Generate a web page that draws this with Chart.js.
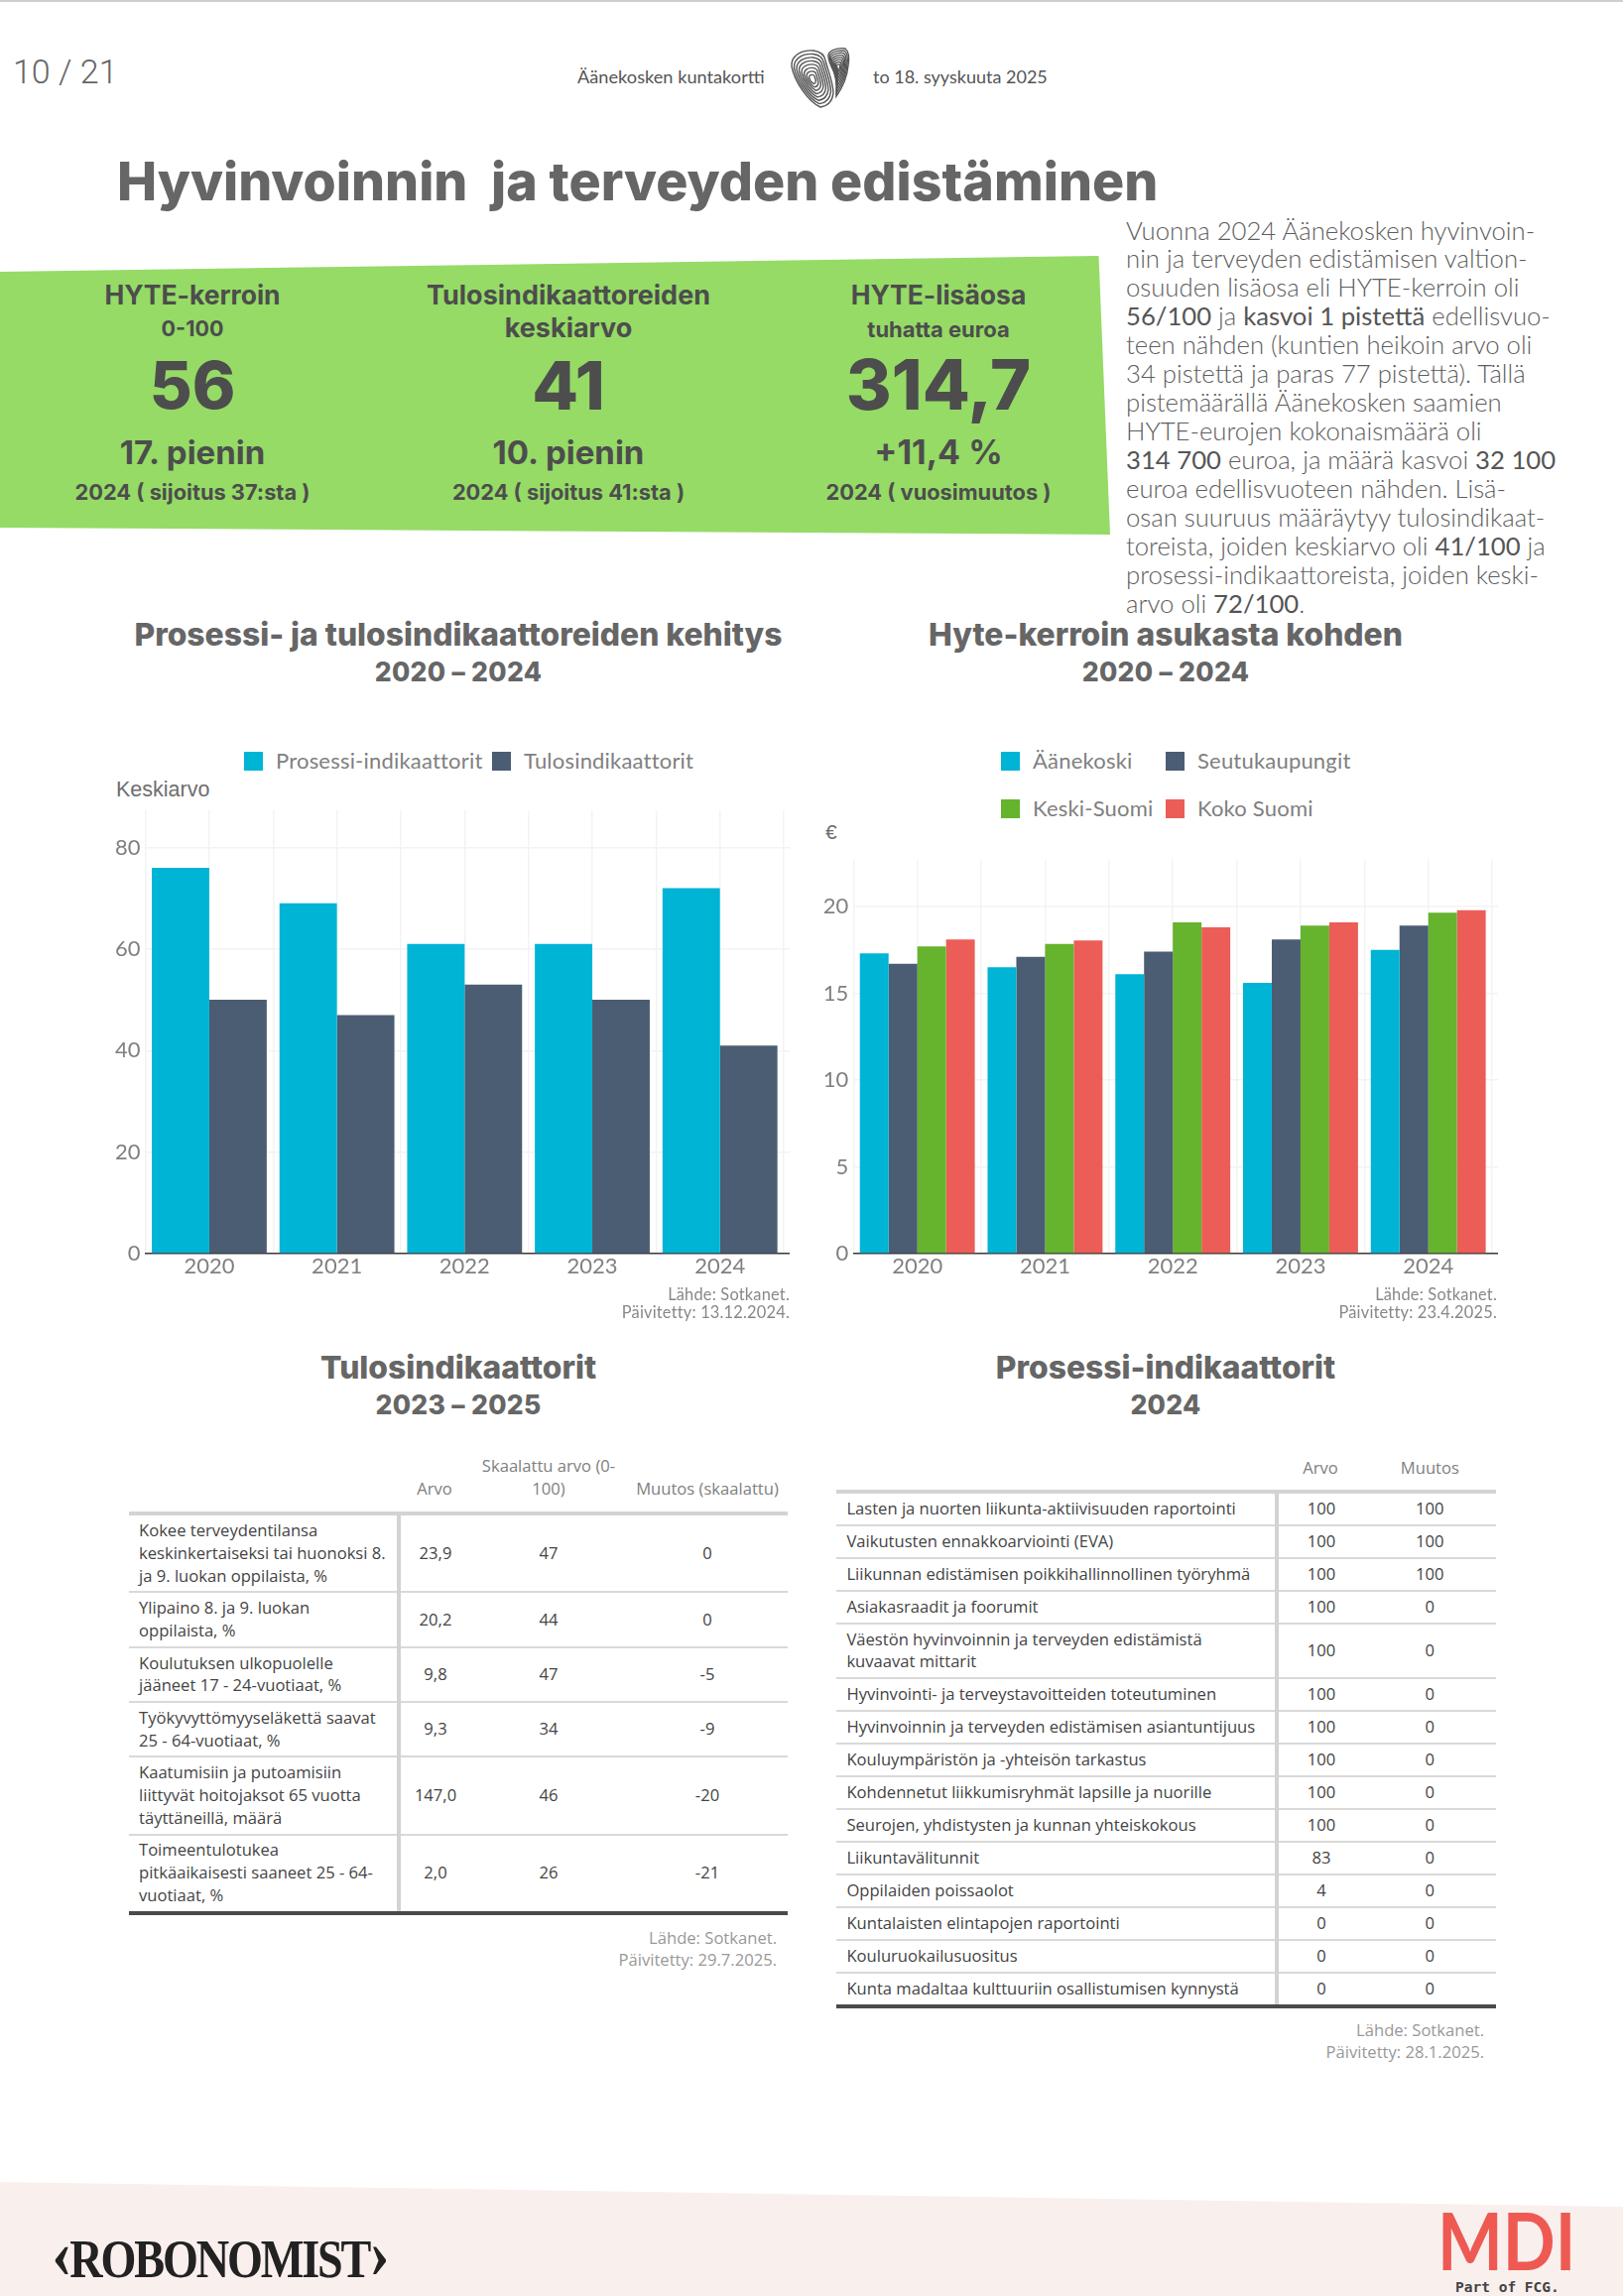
<!DOCTYPE html>
<html lang="fi">
<head>
<meta charset="utf-8">
<title>Hyvinvoinnin ja terveyden edistäminen</title>
<script src="https://cdn.jsdelivr.net/npm/chart.js@4"></script>
<style>
  html, body { margin: 0; padding: 0; background: #fff; }
  #page { position: relative; width: 1636px; height: 2315px; overflow: hidden; font-family: Lato, sans-serif; color: #666; }
  .t { position: absolute; white-space: nowrap; line-height: 1; transform: translateY(-50%); }
  .c { position: absolute; white-space: nowrap; line-height: 1; transform: translate(-50%, -50%); text-align: center; }
  .r { position: absolute; white-space: nowrap; line-height: 1; transform: translateY(-50%); text-align: right; }
  .shape { position: absolute; left: 0; top: 0; }
  .card { color: #4d4d4d; font-family: Inter, sans-serif; font-weight: 700; }
  .sectionTitle { font-family: Inter, sans-serif; font-size: 31.8px; font-weight: 800; color: #666; }
  .sectionSub { font-family: Inter, sans-serif; font-size: 26.5px; font-weight: 800; color: #666; letter-spacing: .3px; }
  .source { font-size: 16.4px; color: #888; font-weight: 400; letter-spacing: .2px; }
  .srcTable { font-family: "Open Sans", sans-serif; font-size: 16.6px; color: #999; }
  #intro { position: absolute; left: 1135px; top: 217.5px; font-size: 25.7px; line-height: 28.95px; font-weight: 300; color: #5e5e5e; white-space: nowrap; }
  #intro b { font-weight: 400; color: #555; }
  canvas { position: absolute; }
  .lg { position: absolute; display: flex; align-items: center; font-size: 22px; color: #808080; font-weight: 400; line-height: 1; letter-spacing: .2px; transform: translateY(-50%); white-space: nowrap; }
  .lg i { display: inline-block; width: 19px; height: 19px; margin-right: 13px; }
  table { position: absolute; border-collapse: collapse; table-layout: fixed; font-family: "Open Sans", sans-serif; font-size: 16.6px; color: #444; }
  td, th { padding: 0; text-align: center; font-weight: 400; }
  th { color: #808080; vertical-align: bottom; border-bottom: 4px solid #d3d3d3; }
  td { border-bottom: 2px solid #d9d9d9; vertical-align: middle; }
  td:first-child { text-align: left; padding-left: 10px; border-right: 4px solid #d3d3d3; }
  tr:last-child td { border-bottom: 4px solid #4a4a4a; }
  #tableT { line-height: 22.8px; }
  #tableT th { padding-bottom: 11.5px; }
  #tableT td { padding-top: 3.9px; padding-bottom: 3.9px; }
  #tableP { line-height: 22.5px; }
  #tableP th { padding-bottom: 10px; }
  #tableP td { padding-top: 4.25px; padding-bottom: 4.25px; }
</style>
</head>
<body>
<div id="page">
  <svg class="shape" width="1636" height="2315">
    <rect x="0" y="0" width="1636" height="2" fill="#cfcfcf"/>
    <polygon points="0,274 1107.5,258 1119,539 0,532" fill="#95db66"/>
    <polygon points="0,2200 1636,2225 1636,2315 0,2315" fill="#f9f0ee"/>
    <g id="thumb" transform="translate(798,48)" fill="none" stroke="#555" stroke-width="1.4"></g>
  </svg>

  <div class="t" style="left:13px;top:72px;font-family:Roboto,sans-serif;font-weight:300;font-size:34px;color:#666">10 / 21</div>
  <div class="t" style="left:582px;top:77px;font-size:18.2px;color:#555">Äänekosken kuntakortti</div>
  <div class="t" style="left:880px;top:77px;font-size:18px;color:#555">to 18. syyskuuta 2025</div>

  <div class="t" style="left:118px;top:183px;font-family:Inter,sans-serif;font-size:53.7px;font-weight:800;color:#666;white-space:pre">Hyvinvoinnin  ja terveyden edistäminen</div>

  <div class="c card" style="left:194px;top:297px;font-size:26.5px">HYTE-kerroin</div>
  <div class="c card" style="left:194px;top:332px;font-size:21.5px">0-100</div>
  <div class="c card" style="left:194px;top:388px;font-size:66px;font-weight:800">56</div>
  <div class="c card" style="left:194px;top:456px;font-size:33px">17. pienin</div>
  <div class="c card" style="left:194px;top:497px;font-size:21.8px">2024 ( sijoitus 37:sta )</div>

  <div class="c card" style="left:573px;top:297px;font-size:27px">Tulosindikaattoreiden</div>
  <div class="c card" style="left:573px;top:330px;font-size:27px">keskiarvo</div>
  <div class="c card" style="left:573px;top:388px;font-size:68px;font-weight:800">41</div>
  <div class="c card" style="left:573px;top:456px;font-size:33px">10. pienin</div>
  <div class="c card" style="left:573px;top:497px;font-size:21.8px">2024 ( sijoitus 41:sta )</div>

  <div class="c card" style="left:946px;top:297px;font-size:26.5px">HYTE-lisäosa</div>
  <div class="c card" style="left:946px;top:332px;font-size:22px">tuhatta euroa</div>
  <div class="c card" style="left:946px;top:388px;font-size:70px;font-weight:800">314,7</div>
  <div class="c card" style="left:946px;top:456px;font-size:34px">+11,4 %</div>
  <div class="c card" style="left:946px;top:497px;font-size:21.8px">2024 ( vuosimuutos )</div>

  <div id="intro">Vuonna 2024 Äänekosken hyvinvoin-<br>nin ja terveyden edistämisen valtion-<br>osuuden lisäosa eli HYTE-kerroin oli<br><b>56/100</b> ja <b>kasvoi 1 pistettä</b> edellisvuo-<br>teen nähden (kuntien heikoin arvo oli<br>34 pistettä ja paras 77 pistettä). Tällä<br>pistemäärällä Äänekosken saamien<br>HYTE-eurojen kokonaismäärä oli<br><b>314 700</b> euroa, ja määrä kasvoi <b>32 100</b><br>euroa edellisvuoteen nähden. Lisä-<br>osan suuruus määräytyy tulosindikaat-<br>toreista, joiden keskiarvo oli <b>41/100</b> ja<br>prosessi-indikaattoreista, joiden keski-<br>arvo oli <b>72/100</b>.</div>

  <div class="c sectionTitle" style="left:462px;top:640px">Prosessi- ja tulosindikaattoreiden kehitys</div>
  <div class="c sectionSub" style="left:462px;top:677px">2020 – 2024</div>
  <div class="c sectionTitle" style="left:1175px;top:640px">Hyte-kerroin asukasta kohden</div>
  <div class="c sectionSub" style="left:1175px;top:677px">2020 – 2024</div>

  <div class="t" style="left:117px;top:797px;font-family:'Liberation Sans',sans-serif;font-size:21.5px;color:#6e6e6e">Keskiarvo</div>
  <div class="t" style="left:832px;top:838px;font-family:'Liberation Sans',sans-serif;font-size:21px;color:#6e6e6e">€</div>

  <canvas id="chartIndex" width="706" height="534" style="left:90px;top:798.7px"></canvas>
  <canvas id="chartPerCapita" width="706" height="486" style="left:804px;top:847.6px"></canvas>
  <div id="legends"></div>

  <div class="r source" style="right:840px;top:1305px">Lähde: Sotkanet.</div>
  <div class="r source" style="right:840px;top:1323px">Päivitetty: 13.12.2024.</div>
  <div class="r source" style="right:127px;top:1305px">Lähde: Sotkanet.</div>
  <div class="r source" style="right:127px;top:1323px">Päivitetty: 23.4.2025.</div>

  <div class="c sectionTitle" style="left:462px;top:1379px">Tulosindikaattorit</div>
  <div class="c sectionSub" style="left:462px;top:1415.5px">2023 – 2025</div>
  <div class="c sectionTitle" style="left:1175px;top:1379px">Prosessi-indikaattorit</div>
  <div class="c sectionSub" style="left:1175px;top:1415.5px">2024</div>

  <table id="tableT" style="left:130px;top:1467px;width:664px"></table>
  <table id="tableP" style="left:843.4px;top:1469px;width:664.3px"></table>

  <div class="r srcTable" style="right:853px;top:1953.5px">Lähde: Sotkanet.</div>
  <div class="r srcTable" style="right:853px;top:1976px">Päivitetty: 29.7.2025.</div>
  <div class="r srcTable" style="right:140px;top:2046.5px">Lähde: Sotkanet.</div>
  <div class="r srcTable" style="right:140px;top:2069px">Päivitetty: 28.1.2025.</div>

  <div class="t" style="left:52px;top:2278px;font-family:'Liberation Serif',serif;font-weight:700;font-size:54px;color:#222;letter-spacing:-2.5px;transform:translateY(-50%) scaleX(.855);transform-origin:left center"><span style="font-size:72px;line-height:0">‹</span>ROBONOMIST<span style="font-size:72px;line-height:0">›</span></div>
  <div class="t" style="left:1449px;top:2258px;font-size:80px;font-weight:700;color:#ee5a52;transform:translateY(-50%) scaleX(.87);transform-origin:left center">MDI</div>
  <div class="t" style="left:1467px;top:2306px;font-family:'DejaVu Sans Mono',monospace;font-weight:700;font-size:14.5px;color:#444">Part of FCG.</div>
</div>

<script>
// data ---------------------------------------------------------------

const years = ['2020', '2021', '2022', '2023', '2024'];

// 1st chart
const prosessi = [76, 69, 61, 61, 72];
const tulos = [50, 47, 53, 50, 41];

// 2nd chart
const aanekoski = [17.3, 16.5, 16.1, 15.6, 17.5];
const seutukaupungit = [16.7, 17.1, 17.4, 18.1, 18.9];
const keskiSuomi = [17.7, 17.85, 19.1, 18.9, 19.65];
const kokoSuomi = [18.1, 18.05, 18.8, 19.1, 19.8];

// tables
const tulosHeader = ['', 'Arvo', 'Skaalattu arvo (0-<br>100)', 'Muutos (skaalattu)'];
const tulosNames = [
  'Kokee terveydentilansa<br>keskinkertaiseksi tai huonoksi 8.<br>ja 9. luokan oppilaista, %',
  'Ylipaino 8. ja 9. luokan<br>oppilaista, %',
  'Koulutuksen ulkopuolelle<br>jääneet 17 - 24-vuotiaat, %',
  'Työkyvyttömyyseläkettä saavat<br>25 - 64-vuotiaat, %',
  'Kaatumisiin ja putoamisiin<br>liittyvät hoitojaksot 65 vuotta<br>täyttäneillä, määrä',
  'Toimeentulotukea<br>pitkäaikaisesti saaneet 25 - 64-<br>vuotiaat, %'
];
const tulosArvo = ['23,9', '20,2', '9,8', '9,3', '147,0', '2,0'];
const tulosSkaalattu = [47, 44, 47, 34, 46, 26];
const tulosMuutos = [0, 0, -5, -9, -20, -21];

const prosessiHeader = ['', 'Arvo', 'Muutos'];
const prosessiNames = [
  'Lasten ja nuorten liikunta-aktiivisuuden raportointi',
  'Vaikutusten ennakkoarviointi (EVA)',
  'Liikunnan edistämisen poikkihallinnollinen työryhmä',
  'Asiakasraadit ja foorumit',
  'Väestön hyvinvoinnin ja terveyden edistämistä<br>kuvaavat mittarit',
  'Hyvinvointi- ja terveystavoitteiden toteutuminen',
  'Hyvinvoinnin ja terveyden edistämisen asiantuntijuus',
  'Kouluympäristön ja -yhteisön tarkastus',
  'Kohdennetut liikkumisryhmät lapsille ja nuorille',
  'Seurojen, yhdistysten ja kunnan yhteiskokous',
  'Liikuntavälitunnit',
  'Oppilaiden poissaolot',
  'Kuntalaisten elintapojen raportointi',
  'Kouluruokailusuositus',
  'Kunta madaltaa kulttuuriin osallistumisen kynnystä'
];
const prosessiArvo = [100, 100, 100, 100, 100, 100, 100, 100, 100, 100, 83, 4, 0, 0, 0];
const prosessiMuutos = [100, 100, 100, 0, 0, 0, 0, 0, 0, 0, 0, 0, 0, 0, 0];

const CYAN = '#00b4d6';
const SLATE = '#4b5d72';
const GREEN = '#66b32e';
const RED = '#ec5d57';

// bar charts ---------------------------------------------------------

// x axis is linear so the grid gets a line at each year and halfway between
function toPoints(values) {
  return values.map((v, i) => ({ x: i, y: v }));
}

function barChart(id, series, yMax, yStep, leftGutter, bottomGutter) {
  return new Chart(document.getElementById(id), {
    type: 'bar',
    data: {
      datasets: series.map(s => ({
        label: s.label,
        data: toPoints(s.values),
        backgroundColor: s.color,
        borderWidth: 0,
        categoryPercentage: 1.8, // ticks are every 0.5 so bar room is half a year, 1.8 = 90 % of a year
        barPercentage: 1
      }))
    },
    options: {
      responsive: false,
      animation: false,
      devicePixelRatio: 1,
      layout: { padding: { top: 14 } },
      plugins: { legend: { display: false }, tooltip: { enabled: false } },
      scales: {
        x: {
          type: 'linear',
          offset: false,
          min: -0.5,
          max: 4.546,
          afterFit: s => { s.height = bottomGutter; },
          grid: { offset: false, color: '#f3f3f3', lineWidth: 1.5, drawTicks: false },
          border: { display: true, color: '#3a3a3a', width: 1.5 },
          ticks: {
            stepSize: 0.5,
            includeBounds: false,
            autoSkip: false,
            maxRotation: 0,
            padding: 0,
            color: '#808080',
            font: { family: 'Lato', size: 22 },
            callback: v => (Number.isInteger(v) ? years[v] : '')
          }
        },
        y: {
          min: 0,
          max: yMax,
          afterFit: s => { s.width = leftGutter; },
          grid: { color: '#f3f3f3', lineWidth: 1.5, drawTicks: false },
          border: { display: false },
          ticks: {
            stepSize: yStep,
            includeBounds: false,
            padding: 5,
            color: '#808080',
            font: { family: 'Lato', size: 22 }
          }
        }
      }
    }
  });
}

const indexChart = barChart('chartIndex', [
  { label: 'Prosessi-indikaattorit', values: prosessi, color: CYAN },
  { label: 'Tulosindikaattorit', values: tulos, color: SLATE }
], 87.3, 20, 56.6, 69);

const perCapitaChart = barChart('chartPerCapita', [
  { label: 'Äänekoski', values: aanekoski, color: CYAN },
  { label: 'Seutukaupungit', values: seutukaupungit, color: SLATE },
  { label: 'Keski-Suomi', values: keskiSuomi, color: GREEN },
  { label: 'Koko Suomi', values: kokoSuomi, color: RED }
], 22.74, 5, 56.3, 70);

// legend items are html because the 2nd chart has aligned columns
function legendItem(chart, index, left, top) {
  const ds = chart.data.datasets[index];
  const el = document.createElement('div');
  el.className = 'lg';
  el.style.left = left + 'px';
  el.style.top = top + 'px';
  el.innerHTML = '<i style="background:' + ds.backgroundColor + '"></i>' + ds.label;
  document.getElementById('legends').appendChild(el);
}

legendItem(indexChart, 0, 246, 767);
legendItem(indexChart, 1, 496, 767);
legendItem(perCapitaChart, 0, 1009, 767);
legendItem(perCapitaChart, 1, 1175, 767);
legendItem(perCapitaChart, 2, 1009, 815);
legendItem(perCapitaChart, 3, 1175, 815);

// tables -------------------------------------------------------------

function fillTable(id, header, widths, columns) {
  let html = '<colgroup>' + widths.map(w => '<col style="width:' + w + 'px">').join('') + '</colgroup>';
  html += '<tr>' + header.map(h => '<th>' + h + '</th>').join('') + '</tr>';
  columns[0].forEach((_, r) => {
    html += '<tr>' + columns.map(col => '<td>' + col[r] + '</td>').join('') + '</tr>';
  });
  document.getElementById(id).innerHTML = html;
}

fillTable('tableT', tulosHeader, [272, 72, 158, 162], [tulosNames, tulosArvo, tulosSkaalattu, tulosMuutos]);
fillTable('tableP', prosessiHeader, [443.6, 88, 132.7], [prosessiNames, prosessiArvo, prosessiMuutos]);

// fingerprint logo ---------------------------------------------------

const thumb = document.getElementById('thumb');
const lobes = [
  { d: 'M29 60 C16 54 3 34 0 19 C-1 8 10 2 22 3 C30 4 33 8 34 13 C37 24 42 36 42 46 C41 54 36 59 29 60 Z', cx: 21, cy: 32 },
  { d: 'M45 49 C46 38 44 26 40 19 C37 12 36 7 38 5 C42 1 50 0 54 1 C58 4 58 12 57 18 C56 30 50 42 45 49 Z', cx: 47, cy: 20 }
];
lobes.forEach(l => {
  for (const k of [1, 0.88, 0.76, 0.64, 0.52, 0.4, 0.28, 0.16]) {
    const p = document.createElementNS('http://www.w3.org/2000/svg', 'path');
    p.setAttribute('d', l.d);
    p.setAttribute('transform', 'translate(' + l.cx + ' ' + l.cy + ') scale(' + k + ') translate(' + -l.cx + ' ' + -l.cy + ')');
    p.setAttribute('vector-effect', 'non-scaling-stroke');
    thumb.appendChild(p);
  }
});
</script>
</body>
</html>
